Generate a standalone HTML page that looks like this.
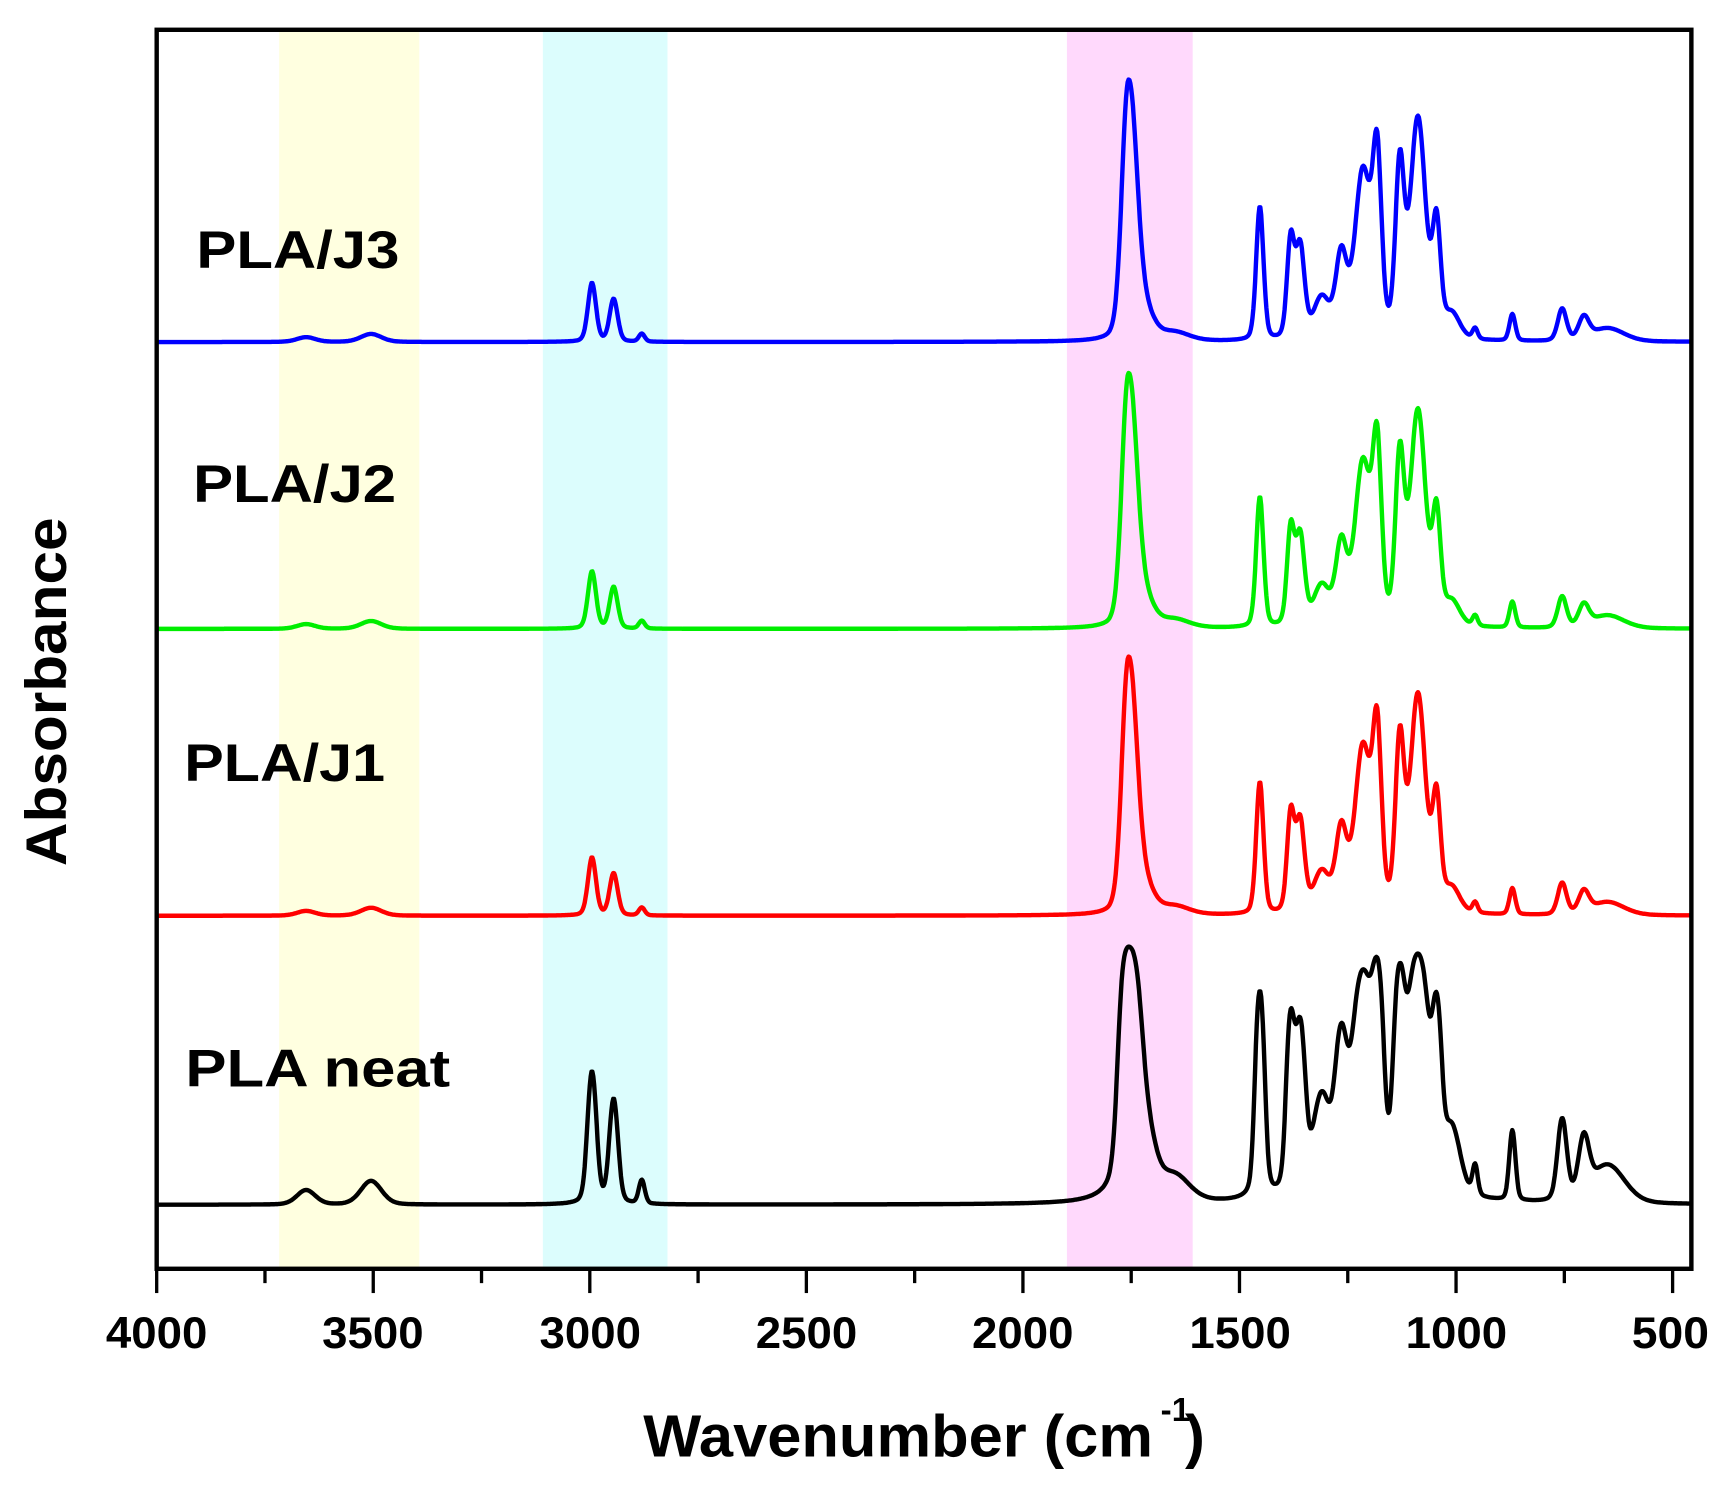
<!DOCTYPE html>
<html><head><meta charset="utf-8"><style>
html,body{margin:0;padding:0;background:#fff;}
svg{display:block;}
text{font-family:"Liberation Sans",Arial,sans-serif;font-weight:bold;fill:#000;}
</style></head><body>
<svg id="s" width="1730" height="1490" viewBox="0 0 1568 1350.5" xmlns="http://www.w3.org/2000/svg">
<rect x="0" y="0" width="1568" height="1351" fill="#fff"/>
<rect x="253" y="28" width="127" height="1122" fill="#ffffe0"/>
<rect x="492" y="28" width="113" height="1122" fill="#dcfdfd"/>
<rect x="967" y="28" width="114" height="1122" fill="#ffd9fc"/>
<g id="curves" fill="none" stroke-width="4" stroke-linejoin="round"></g>
<rect x="142" y="27" width="1391" height="1123" fill="none" stroke="#000" stroke-width="4"/>
<g id="ticks" stroke="#000" stroke-width="3"></g>
<g font-size="40" text-anchor="middle">
<text x="142" y="1222" textLength="92" lengthAdjust="spacingAndGlyphs">4000</text><text x="338" y="1222" textLength="92" lengthAdjust="spacingAndGlyphs">3500</text><text x="535" y="1222" textLength="92" lengthAdjust="spacingAndGlyphs">3000</text>
<text x="731" y="1222" textLength="92" lengthAdjust="spacingAndGlyphs">2500</text><text x="927" y="1222" textLength="92" lengthAdjust="spacingAndGlyphs">2000</text><text x="1124" y="1222" textLength="92" lengthAdjust="spacingAndGlyphs">1500</text>
<text x="1320" y="1222" textLength="92" lengthAdjust="spacingAndGlyphs">1000</text><text x="1514" y="1222" textLength="70" lengthAdjust="spacingAndGlyphs">500</text>
</g>
<text x="583" y="1320" font-size="54" textLength="462" lengthAdjust="spacingAndGlyphs">Wavenumber (cm</text>
<text x="1052" y="1288" font-size="30">-1</text>
<text x="1074" y="1320" font-size="54">)</text>
<text transform="translate(60,627) rotate(-90)" font-size="52" text-anchor="middle" textLength="316" lengthAdjust="spacingAndGlyphs">Absorbance</text>
<g font-size="48">
<text x="178" y="243" textLength="184" lengthAdjust="spacingAndGlyphs">PLA/J3</text>
<text x="175" y="455" textLength="184" lengthAdjust="spacingAndGlyphs">PLA/J2</text>
<text x="167" y="708" textLength="182" lengthAdjust="spacingAndGlyphs">PLA/J1</text>
<text x="168" y="985" textLength="240" lengthAdjust="spacingAndGlyphs">PLA neat</text>
</g>
</svg>
<script>
var X=function(w){return 142+(4000-w)*1374/3500;};
var tk=document.getElementById('ticks'),h='';
for(var w=4000;w>=500;w-=250){var major=(w%500===0);h+='<line x1="'+X(w)+'" y1="1150" x2="'+X(w)+'" y2="'+(major?1172:1163)+'"/>';}
tk.innerHTML=h;
var P=[[3655,0.018,25],[3505,0.03,28],[2995,0.22,11],[2945,0.16,11],[2880,0.03,8],
[1762,0.62,15],[1745,0.55,17],[1720,0.1,25],[1650,0.03,40],
[1453,0.5,10],[1382,0.36,10],[1360,0.34,12],[1310,0.15,22],[1265,0.3,15],[1215,0.62,22],[1182,0.62,12],
[1130,0.62,12],[1088,0.82,21],[1045,0.4,11],[1010,0.09,22],[956,0.04,7],[870,0.1,8],[755,0.12,12],[705,0.08,14],[650,0.05,45]];
function f(w){var s=0;for(var i=0;i<P.length;i++){var d=(w-P[i][0])/P[i][2];s+=P[i][1]*(0.75*Math.exp(-0.693*d*d)+0.25/(1+d*d));}return s;}
var S=[["#0000ff",310,238,0],["#00ee00",570,232,0],["#ff0000",830,235,0],["#000000",1092,234,1]];
var mx=0;for(var w=1800;w>=1700;w-=1){mx=Math.max(mx,f(w));}
var g=document.getElementById('curves'),out='';
S.forEach(function(s){var d='';
 for(var w=4000;w>=456;w-=2){var v=f(w)/mx;if(s[3]){v=(1-Math.exp(-3*v))/(1-Math.exp(-3));}
  d+=(w===4000?'M':'L')+X(w).toFixed(1)+','+(s[1]-s[2]*v).toFixed(1);}
 out+='<path d="'+d+'" stroke="'+s[0]+'"/>';});
g.innerHTML=out;
</script>
</body></html>
